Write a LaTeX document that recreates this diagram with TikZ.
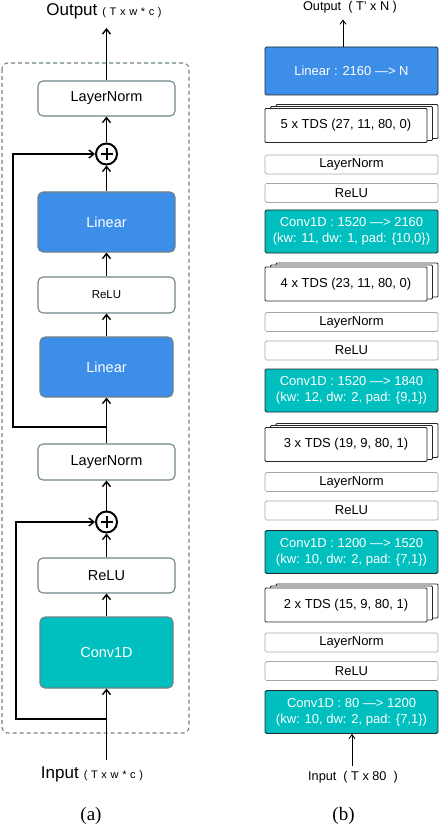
\documentclass[tikz,border=0pt]{standalone}
\usepackage{fontspec}
\setmainfont{Liberation Serif}
\setsansfont{Liberation Sans}
\usepackage{xcolor}
\usetikzlibrary{arrows.meta,shadows}

\definecolor{linblue}{HTML}{3C8EE8}
\definecolor{convteal}{HTML}{00BFBF}
\definecolor{boxgray}{HTML}{6F8288}

\newcommand{\txwc}{{\fontsize{11}{13}\selectfont (\,\,T\,\,x\,\,w\,\,*\,\,c\,\,)}}

\begin{document}
\begin{tikzpicture}[x=1pt,y=-1pt,
    font=\sffamily,
    blockA/.style={draw=boxgray, line width=1.1pt, rounded corners=5pt, minimum width=137pt,
        inner sep=0pt, font=\sffamily\fontsize{14.5}{17}\selectfont},
    plusc/.style={circle, draw, line width=2pt, minimum size=21pt, inner sep=0pt},
    arr/.style={line width=1.4pt, -{Straight Barb[length=5pt,width=8pt]}},
    arrB/.style={line width=0.9pt, -{Straight Barb[length=4pt,width=6pt]}},
    boxR/.style={draw=black!85, line width=0.9pt, minimum width=173pt, inner sep=0pt,
        rounded corners=1.5pt, align=center, font=\sffamily\fontsize{13}{16}\selectfont},
    linR/.style={boxR, fill=linblue, text=white, minimum height=48pt},
    convR/.style={boxR, fill=convteal, text=white, minimum height=43pt},
    thinR/.style={boxR, draw=black!35, line width=0.7pt, minimum height=19pt},
    tdsR/.style={boxR, fill=white, minimum width=162pt, minimum height=34pt, rounded corners=1pt,
        double copy shadow={shadow xshift=5.5pt, shadow yshift=2pt}},
  ]
    \useasboundingbox (0,0) rectangle (440,826);

    % (a) residual blocks
    \draw[draw=boxgray, line width=1.1pt, dash pattern=on 4pt off 3pt, rounded corners=6pt]
        (2,63) rectangle (189,733);

    \node[blockA] (ln1) at (106.5,98.5) [minimum height=35pt] {LayerNorm};
    \node[plusc] (p1) at (106.5,154) {};
    \node[blockA, fill=linblue, text=white] (lin1) at (106.5,222) [minimum height=60pt] {Linear};
    \node[blockA, font=\sffamily\fontsize{11.5}{14}\selectfont] (relu1) at (106.5,295) [minimum height=36pt] {ReLU};
    \node[blockA, fill=linblue, text=white] (lin2) at (106.5,367) [minimum width=133pt, minimum height=60pt] {Linear};
    \node[blockA] (ln2) at (106.5,462) [minimum height=36pt] {LayerNorm};
    \node[plusc] (p2) at (106.5,522) {};
    \node[blockA] (relu2) at (106.5,575.5) [minimum height=35pt] {ReLU};
    \node[blockA, fill=convteal, text=white] (conv) at (106.5,652.5) [minimum width=133pt, minimum height=71pt] {Conv1D};

    \foreach \p in {p1,p2}
        \draw[line width=2pt] ([xshift=-6pt]\p.center) -- ([xshift=6pt]\p.center)
            ([yshift=-6pt]\p.center) -- ([yshift=6pt]\p.center);

    \node (outA) at (104,11) {{\fontsize{17}{20}\selectfont Output}\hspace{5pt}\txwc};
    \node (inA) at (92,774) {{\fontsize{17}{20}\selectfont Input}\hspace{5pt}\txwc};
    \coordinate (outA0) at (106.5,28);
    \coordinate (inA0) at (106.5,760);
    \coordinate (sk1) at (106.5,427);
    \coordinate (sk2) at (106.5,719);

    \draw[arr] (inA0) -- (conv);
    \foreach \a/\b in {conv/relu2, relu2/p2, p2/ln2, ln2/lin2, lin2/relu1, relu1/lin1, lin1/p1, p1/ln1}
        \draw[arr] (\a) -- (\b);
    \draw[arr] (ln1) -- (outA0);
    \draw[arr] (sk1) -- ++(-93.5,0) |- (p1.west);
    \draw[arr] (sk2) -- ++(-90.5,0) |- (p2.west);

    \node[font=\rmfamily\fontsize{19}{22}\selectfont] (capA) at (91,816) {(a)};

    % (b) full network
    \node[linR] (linR) at (351.5,71) {Linear : 2160 —> N};
    \node[tdsR] (tds5) at (346,125.5) {5 x TDS (27, 11, 80, 0)};
    \node[convR] (convR3) at (351.5,231.5) {Conv1D : 1520 —> 2160\\(kw: 11, dw: 1, pad: \{10,0\})};
    \node[tdsR] (tds4) at (346,284) {4 x TDS (23, 11, 80, 0)};
    \node[convR] (convR2) at (351.5,390.5) {Conv1D : 1520 —> 1840\\(kw: 12, dw: 2, pad: \{9,1\})};
    \node[tdsR] (tds3) at (346,444.5) {3 x TDS (19, 9, 80, 1)};
    \node[convR] (convR1) at (351.5,552) {Conv1D : 1200 —> 1520\\(kw: 10, dw: 2, pad: \{7,1\})};
    \node[tdsR] (tds2) at (346,605) {2 x TDS (15, 9, 80, 1)};
    \node[convR] (convR0) at (351.5,712) {Conv1D : 80 —> 1200\\(kw: 10, dw: 2, pad: \{7,1\})};

    \foreach \y [count=\i] in {164.5,322,482,642.5} {
        \node[thinR] (lnR\i) at (351.5,\y) {LayerNorm};
        \node[thinR] (reluR\i) at (351.5,\y+28.5) {ReLU};
    }

    \node[font=\sffamily\fontsize{12.7}{15}\selectfont] (outB) at (350,7.5) {Output\ \ ( T' x N )};
    \node[font=\sffamily\fontsize{12.7}{15}\selectfont] (inB) at (353,777.5) {Input\ \ ( T x 80\ \ )};
    \coordinate (inB0) at (352,766);
    \draw[arrB] ([xshift=-8.5pt]linR.north) -- ++(0,-27);
    \draw[arrB] (inB0) -- (inB0 |- convR0.south);

    \node[font=\rmfamily\fontsize{19}{22}\selectfont] (capB) at (343.5,816) {(b)};
\end{tikzpicture}
\end{document}
